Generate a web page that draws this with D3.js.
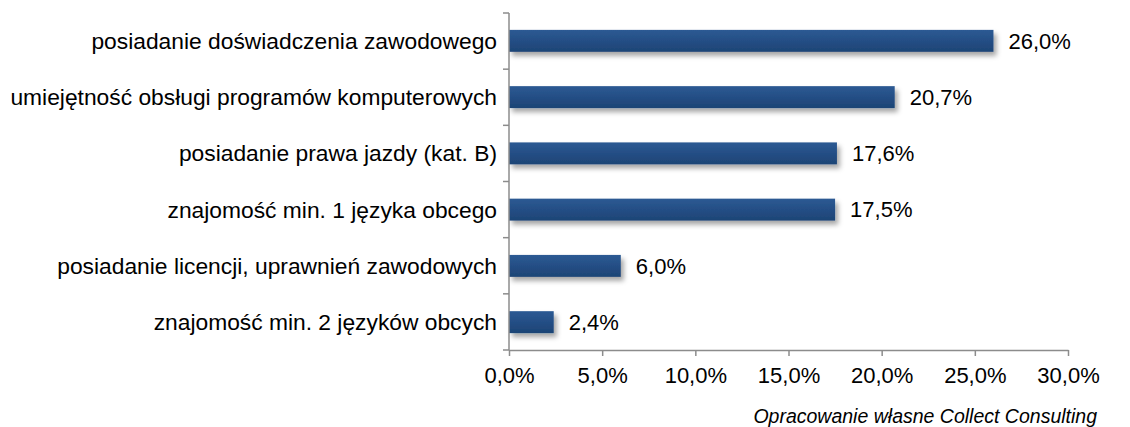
<!DOCTYPE html>
<html>
<head>
<meta charset="utf-8">
<script src="https://cdn.jsdelivr.net/npm/d3@7"></script>
<style>
  body { margin: 0; background: #fff; }
  text { font-family: "Liberation Sans", Arial, sans-serif; fill: #000; }
</style>
</head>
<body>
<svg width="1130" height="427"></svg>
<script>
// data
var categories = [
  "posiadanie doświadczenia zawodowego",
  "umiejętność obsługi programów komputerowych",
  "posiadanie prawa jazdy (kat. B)",
  "znajomość min. 1 języka obcego",
  "posiadanie licencji, uprawnień zawodowych",
  "znajomość min. 2 języków obcych"
];
var values = [26.0, 20.7, 17.6, 17.5, 6.0, 2.4];
var xTicks = [0, 5, 10, 15, 20, 25, 30];
var sourceNote = "Opracowanie własne Collect Consulting";

var svg = d3.select("svg");

// plot area (window.top is reserved, so prefixed names)
var plotLeft = 509, plotRight = 1068, plotTop = 13, plotBottom = 350;

var fmt = function(v) { return v.toFixed(1).replace(".", ",") + "%"; };

var x = d3.scaleLinear().domain([0, 30]).range([plotLeft, plotRight]);
var y = d3.scaleBand().domain(categories).range([plotTop, plotBottom]).paddingInner(0.61).paddingOuter(0.3);

// defs: gradient + shadow
var defs = svg.append("defs");
var grad = defs.append("linearGradient").attr("id", "barGrad")
    .attr("x1", 0).attr("y1", 0).attr("x2", 0).attr("y2", 1);
grad.append("stop").attr("offset", "0%").attr("stop-color", "#2d5a93");
grad.append("stop").attr("offset", "50%").attr("stop-color", "#244e85");
grad.append("stop").attr("offset", "100%").attr("stop-color", "#1d4475");

var shadow = defs.append("filter").attr("id", "shadow")
    .attr("x", "-10%").attr("y", "-30%").attr("width", "130%").attr("height", "190%");
shadow.append("feDropShadow")
    .attr("dx", 3).attr("dy", 4).attr("stdDeviation", 2.5)
    .attr("flood-color", "#000").attr("flood-opacity", 0.35);

// bars
svg.append("g").selectAll("rect")
  .data(values)
  .enter().append("rect")
    .attr("x", x(0))
    .attr("y", function(d, i) { return y(categories[i]); })
    .attr("width", function(d) { return x(d) - x(0); })
    .attr("height", y.bandwidth())
    .attr("fill", "url(#barGrad)")
    .attr("filter", "url(#shadow)");

// value labels
svg.append("g").selectAll("text")
  .data(values)
  .enter().append("text")
    .attr("x", function(d) { return x(d) + 15; })
    .attr("y", function(d, i) { return y(categories[i]) + y.bandwidth() / 2; })
    .attr("dy", "0.35em")
    .style("font-size", "22px")
    .text(fmt);

// category labels
svg.append("g").selectAll("text")
  .data(categories)
  .enter().append("text")
    .attr("x", plotLeft - 12)
    .attr("y", function(d) { return y(d) + y.bandwidth() / 2; })
    .attr("dy", "0.35em")
    .attr("text-anchor", "end")
    .style("font-size", "22.8px")
    .text(function(d) { return d; });

// y axis: line with ticks at band boundaries
var step = (plotBottom - plotTop) / categories.length;
var yBounds = d3.range(categories.length + 1).map(function(i) { return plotTop + i * step; });
var axisCol = "#8c8c8c";
var ya = svg.append("g");
ya.append("line").attr("x1", plotLeft).attr("x2", plotLeft).attr("y1", plotTop).attr("y2", plotBottom)
  .attr("stroke", axisCol).attr("stroke-width", 1.5);
ya.selectAll(".yt").data(yBounds).enter().append("line")
  .attr("x1", plotLeft - 6).attr("x2", plotLeft)
  .attr("y1", function(d) { return d; }).attr("y2", function(d) { return d; })
  .attr("stroke", axisCol).attr("stroke-width", 1.5);

// x axis
var xa = svg.append("g").attr("transform", "translate(0," + plotBottom + ")")
  .call(d3.axisBottom(x).tickValues(xTicks).tickSize(6).tickSizeOuter(0).tickPadding(11)
    .tickFormat(fmt));
xa.select(".domain").attr("stroke", axisCol).attr("stroke-width", 1.5);
xa.selectAll(".tick line").attr("stroke", axisCol).attr("stroke-width", 1.5);
xa.selectAll(".tick text").style("font-size", "22px").attr("fill", "#000")
  .style("font-family", "'Liberation Sans', Arial, sans-serif");

// source note
svg.append("text")
  .attr("x", 1097).attr("y", 423)
  .attr("text-anchor", "end")
  .style("font-size", "19.5px")
  .style("font-style", "italic")
  .text(sourceNote);
</script>
</body>
</html>
